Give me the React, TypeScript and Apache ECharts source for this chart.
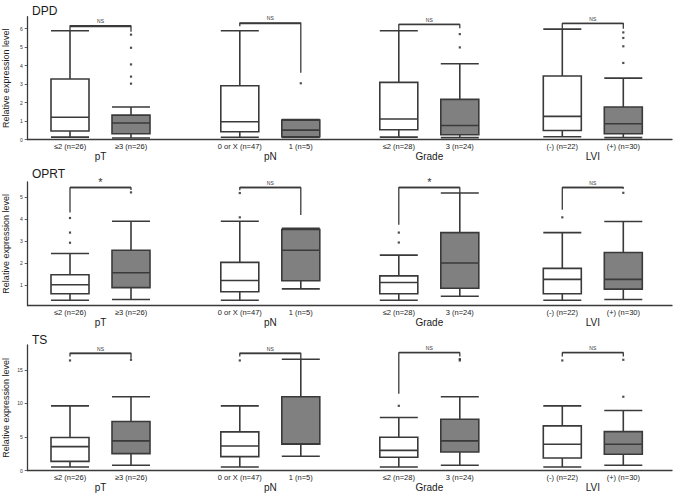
import React, { useEffect, useRef } from "react";
import * as echarts from "echarts";

// ---------- data ----------
const groupNames = ["pT", "pN", "Grade", "LVI"];
const categoryLabels = [
  ["≤2 (n=26)", "≥3 (n=26)"],
  ["0 or X (n=47)", "1 (n=5)"],
  ["≤2 (n=28)", "3 (n=24)"],
  ["(-) (n=22)", "(+) (n=30)"],
];
const geneNames = ["DPD", "OPRT", "TS"];

// boxes: [min, Q1, median, Q3, max], two per group, groups in order pT, pN, Grade, LVI
const dpdBoxes = [
  [0.14, 0.47, 1.21, 3.28, 5.89], [0.09, 0.32, 0.9, 1.33, 1.77],
  [0.13, 0.43, 0.97, 2.92, 5.89], [0.12, 0.16, 0.52, 1.06, 1.09],
  [0.14, 0.54, 1.12, 3.1, 5.89], [0.11, 0.27, 0.77, 2.18, 4.11],
  [0.16, 0.5, 1.26, 3.44, 5.98], [0.11, 0.32, 0.86, 1.77, 3.33],
];
const dpdOutliers = [[], [5.68, 4.97, 4.07, 3.41, 3.03], [], [3.05], [], [5.71, 4.99], [], [5.8, 5.5, 5.05, 4.15]];
const dpdBrackets = [[5.89, 6.16, 5.84], [6.14, 6.32, 3.62], [5.89, 6.23, 6.02], [5.98, 6.29, 6.0]];
const dpdSignif = ["NS", "NS", "NS", "NS"];
const dpdTicks = [0, 1, 2, 3, 4, 5, 6];
const dpdRange = [0, 6.65];

const oprtBoxes = [
  [0.32, 0.61, 1.02, 1.47, 2.43], [0.35, 0.89, 1.56, 2.58, 3.89],
  [0.32, 0.7, 1.21, 2.03, 3.89], [0.83, 1.2, 2.58, 3.52, 3.57],
  [0.32, 0.61, 1.12, 1.42, 2.36], [0.5, 0.86, 2.0, 3.38, 5.17],
  [0.32, 0.61, 1.26, 1.76, 3.38], [0.35, 0.82, 1.26, 2.48, 3.88],
];
const oprtOutliers = [[4.04, 3.38, 2.92], [5.2], [5.17, 4.07], [], [3.38, 2.93], [], [4.07], [5.18]];
const oprtBrackets = [[4.29, 5.42, 5.31], [5.3, 5.42, 4.18], [3.73, 5.42, 5.17], [4.41, 5.42, 5.36]];
const oprtSignif = ["*", "NS", "*", "NS"];
const oprtTicks = [1, 2, 3, 4, 5];
const oprtRange = [0.07, 5.67];

const tsBoxes = [
  [0.55, 1.39, 3.58, 4.93, 9.65], [0.8, 2.54, 4.43, 7.31, 11.0],
  [0.55, 2.09, 3.68, 5.77, 9.65], [2.14, 3.93, 4.0, 11.0, 16.57],
  [0.55, 1.99, 3.03, 4.98, 7.91], [0.8, 2.79, 4.43, 7.66, 11.0],
  [0.55, 1.89, 3.93, 6.67, 9.65], [0.8, 2.44, 3.93, 5.82, 8.96],
];
const tsOutliers = [[16.4], [16.5], [16.4], [], [9.65], [16.6, 16.4], [16.4], [16.5, 11.0]];
const tsBrackets = [[17.0, 17.5, 16.7], [17.0, 17.5, 16.57], [11.44, 17.56, 17.0], [17.0, 17.56, 17.0]];
const tsSignif = ["NS", "NS", "NS", "NS"];
const tsTicks = [0, 5, 10, 15];
const tsRange = [0, 18.7];

const yAxisName = "Relative expression level";

// ---------- styles / layout ----------
const FONT = "Arial, 'Liberation Sans', sans-serif";
const LINE = "#3a3a3a";
const TEXT = "#1a1a1a";
const GRAY = "#808080";
const rowLayout = [
  { top: 16.7, height: 123 },
  { top: 182, height: 123.7 },
  { top: 345, height: 125.7 },
];
const titleTops = [5, 167.5, 334];
const groupLefts = [39.5, 209.3, 368.3, 531.8];
const groupWidth = 122;
const baseLeft = 27.7;
const baseRight = 5;

function buildOption() {
  const rows = [
    { boxes: dpdBoxes, outliers: dpdOutliers, brackets: dpdBrackets, signif: dpdSignif, ticks: dpdTicks, range: dpdRange },
    { boxes: oprtBoxes, outliers: oprtOutliers, brackets: oprtBrackets, signif: oprtSignif, ticks: oprtTicks, range: oprtRange },
    { boxes: tsBoxes, outliers: tsOutliers, brackets: tsBrackets, signif: tsSignif, ticks: tsTicks, range: tsRange },
  ];
  const grid: any[] = [];
  const xAxis: any[] = [];
  const yAxis: any[] = [];
  const series: any[] = [];
  const title: any[] = [];

  rows.forEach((row, r) => {
    const { top, height } = rowLayout[r];
    title.push({
      text: geneNames[r],
      left: 32,
      top: titleTops[r],
      padding: 0,
      textStyle: { fontSize: 12, fontWeight: "normal", color: TEXT, fontFamily: FONT },
    });
    // base grid: full-width baseline and y axis
    const baseIdx = grid.length;
    grid.push({ left: baseLeft, right: baseRight, top, height, containLabel: false, outerBoundsMode: "none" });
    xAxis.push({
      gridIndex: baseIdx,
      type: "value",
      min: 0,
      max: 1,
      axisLine: { show: true, lineStyle: { color: LINE, width: 1.3 } },
      axisTick: { show: false },
      axisLabel: { show: false },
      splitLine: { show: false },
    });
    yAxis.push({
      gridIndex: baseIdx,
      type: "value",
      min: row.range[0],
      max: row.range[1],
      name: yAxisName,
      nameLocation: "middle",
      nameRotate: 90,
      nameGap: 17,
      nameMoveOverlap: false,
      nameTextStyle: { fontSize: 9, color: TEXT, fontFamily: FONT },
      axisLine: { show: true, lineStyle: { color: LINE, width: 1.3 } },
      axisTick: { show: true, length: 3, customValues: row.ticks, lineStyle: { color: LINE, width: 0.8 } },
      axisLabel: { show: true, customValues: row.ticks, fontSize: 5, color: "#333", margin: 5, fontFamily: FONT },
      splitLine: { show: false },
    });

    groupNames.forEach((gName, g) => {
      const gi = grid.length;
      grid.push({ left: groupLefts[g], width: groupWidth, top, height, containLabel: false, outerBoundsMode: "none" });
      xAxis.push({
        gridIndex: gi,
        type: "category",
        data: categoryLabels[g],
        boundaryGap: true,
        axisLine: { show: false },
        axisTick: { show: false },
        axisLabel: { fontSize: 7.5, color: TEXT, margin: 2.5, fontFamily: FONT, interval: 0 },
        name: gName,
        nameLocation: "middle",
        nameGap: 11.5,
        nameTextStyle: { fontSize: 10, color: TEXT, fontFamily: FONT },
      });
      yAxis.push({ gridIndex: gi, type: "value", min: row.range[0], max: row.range[1], show: false, splitLine: { show: false } });

      const b0 = row.boxes[g * 2];
      const b1 = row.boxes[g * 2 + 1];
      series.push({
        type: "boxplot",
        xAxisIndex: gi,
        yAxisIndex: gi,
        boxWidth: [38, 38],
        itemStyle: { color: "#ffffff", borderColor: LINE, borderWidth: 1.6 },
        data: [
          { value: b0, itemStyle: { color: "#ffffff" } },
          { value: b1, itemStyle: { color: GRAY } },
        ],
        silent: true,
        z: 3,
      });
      const pts: any[] = [];
      row.outliers[g * 2].forEach((v) => pts.push([0, v]));
      row.outliers[g * 2 + 1].forEach((v) => pts.push([1, v]));
      series.push({
        type: "scatter",
        xAxisIndex: gi,
        yAxisIndex: gi,
        symbol: "rect",
        symbolSize: 2.2,
        itemStyle: { color: "#222" },
        data: pts,
        silent: true,
        z: 4,
      });
      const br = row.brackets[g];
      const sig = row.signif[g];
      series.push({
        type: "line",
        xAxisIndex: gi,
        yAxisIndex: gi,
        color: LINE,
        data: [[0, br[0]], [0, br[1]], [1, br[1]], [1, br[2]]],
        symbol: "none",
        lineStyle: { color: LINE, width: 1.3 },
        silent: true,
        z: 2,
        markLine: {
          silent: true,
          symbol: ["none", "none"],
          itemStyle: { color: LINE },
          lineStyle: { color: LINE, width: 1.3, type: "solid" },
          label: {
            show: true,
            position: "middle",
            formatter: sig,
            fontSize: sig === "*" ? 11 : 5,
            color: "#333333",
            textBorderWidth: 0,
            fontFamily: FONT,
            distance: sig === "*" ? 0 : 2,
          },
          data: [[{ coord: [0, br[1]] }, { coord: [1, br[1]] }]],
        },
      });
    });
  });

  return { animation: false, backgroundColor: "#ffffff", title, grid, xAxis, yAxis, series };
}

export default function App() {
  const ref = useRef<HTMLDivElement>(null);
  useEffect(() => {
    if (!ref.current) return;
    const chart = echarts.init(ref.current, undefined, { renderer: "svg" });
    chart.setOption(buildOption() as any);
    return () => chart.dispose();
  }, []);
  return (
    <div
      ref={ref}
      style={{ position: "fixed", left: 0, top: 0, width: 677, height: 498, background: "#fff" }}
    />
  );
}
